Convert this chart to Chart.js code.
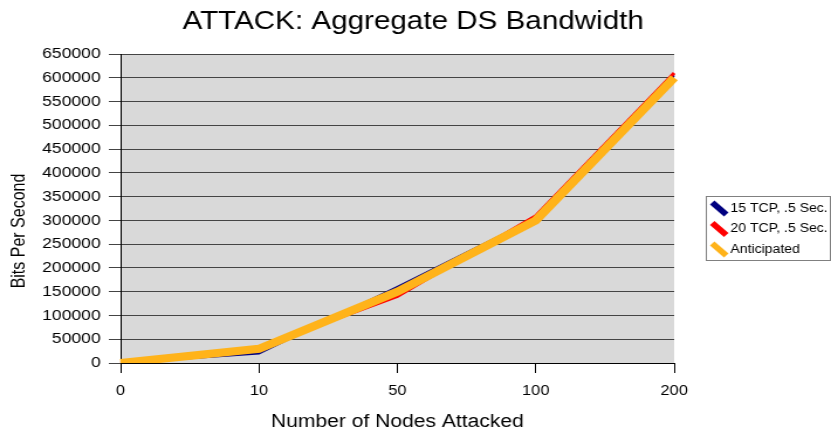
<!DOCTYPE html>
<html>
<head>
<meta charset="utf-8">
<script src="https://cdn.jsdelivr.net/npm/chart.js@4/dist/chart.umd.min.js"></script>
<style>
  html, body { margin: 0; padding: 0; background: #ffffff; }
  /* drawing surface is 710 px wide, shown widened to 831 px */
  #chart { width: 831px; height: 434px; display: block; }
</style>
</head>
<body>
<canvas id="chart" width="710" height="434" style="width:831px;height:434px"></canvas>
<script>
// Nodes attacked (category axis)
const nodes = ['0', '10', '50', '100', '200'];

// Measured aggregate bandwidth, bits per second
const tcp15 = [0, 20000, 160000, 305000, 605000];
const tcp20 = [0, 33000, 140000, 310000, 610000];
const anticipated = [0, 30000, 150000, 300000, 600000];

const yTicks = [0, 50000, 100000, 150000, 200000, 250000, 300000, 350000,
  400000, 450000, 500000, 550000, 600000, 650000];

const titleText = 'ATTACK: Aggregate DS Bandwidth';
const yTitleText = 'Bits Per Second';
const xTitleText = 'Number of Nodes Attacked';

const FONT = '"Liberation Sans", Arial, sans-serif';

// Grey plot background
const plotBg = {
  id: 'plotBg',
  beforeDraw(chart) {
    const a = chart.chartArea;
    const ctx = chart.ctx;
    ctx.save();
    ctx.fillStyle = '#d9d9d9';
    ctx.fillRect(a.left, a.top, a.right - a.left, a.bottom - a.top);
    ctx.restore();
  }
};

// Chart title and the rotated y-axis title
const titles = {
  id: 'titles',
  afterDraw(chart) {
    const ctx = chart.ctx;
    ctx.save();
    ctx.fillStyle = '#000000';
    ctx.textAlign = 'center';
    ctx.textBaseline = 'alphabetic';
    ctx.font = '25.3px ' + FONT;
    ctx.fillText(titleText, 353, 29);
    ctx.translate(17, 231);
    ctx.rotate(-Math.PI / 2);
    ctx.textBaseline = 'middle';
    ctx.font = '16px ' + FONT;
    ctx.fillText(yTitleText, 0, 0);
    ctx.restore();
  }
};

// Boxed legend on the right with diagonal swatches
const boxLegend = {
  id: 'boxLegend',
  afterDraw(chart) {
    const ctx = chart.ctx;
    const x0 = 603.5, y0 = 196.5, w = 106, h = 64;
    ctx.save();
    ctx.fillStyle = '#ffffff';
    ctx.fillRect(x0, y0, w, h);
    ctx.strokeStyle = '#808080';
    ctx.lineWidth = 1;
    ctx.strokeRect(x0, y0, w, h);
    ctx.font = '12px ' + FONT;
    ctx.textBaseline = 'middle';
    ctx.textAlign = 'left';
    [0, 1, 2].forEach((i) => {
      const ds = chart.data.datasets[i];
      const cy = y0 + 12 + i * 20.5;
      ctx.strokeStyle = ds.borderColor;
      ctx.lineWidth = 5.5;
      ctx.lineCap = 'butt';
      ctx.beginPath();
      ctx.moveTo(608.5, cy - 6);
      ctx.lineTo(620.5, cy + 6);
      ctx.stroke();
      ctx.fillStyle = '#000000';
      ctx.fillText(ds.label, 624, cy);
    });
    ctx.restore();
  }
};

new Chart(document.getElementById('chart'), {
  type: 'line',
  data: {
    labels: nodes,
    datasets: [
      { label: '15 TCP, .5 Sec.', data: tcp15, borderColor: '#000080', borderWidth: 2, order: 2 },
      { label: '20 TCP, .5 Sec.', data: tcp20, borderColor: '#ff0000', borderWidth: 3, order: 1 },
      { label: 'Anticipated', data: anticipated, borderColor: '#ffb31a', borderWidth: 8, order: 0 }
    ]
  },
  options: {
    responsive: false,
    animation: false,
    devicePixelRatio: 1,
    layout: { padding: { left: 0, right: 134, top: 54, bottom: 0 } },
    elements: {
      point: { radius: 0, hoverRadius: 0 },
      line: { tension: 0, borderJoinStyle: 'miter', borderCapStyle: 'butt', fill: false }
    },
    plugins: {
      legend: { display: false },
      tooltip: { enabled: false },
      title: { display: false }
    },
    scales: {
      x: {
        type: 'category',
        offset: false,
        grid: { display: true, drawOnChartArea: false, drawTicks: true, tickLength: 10, color: '#000000' },
        border: { display: true, color: '#000000' },
        ticks: { color: '#000000', font: { family: FONT, size: 14 }, padding: 10, maxRotation: 0 },
        title: { display: true, text: xTitleText, color: '#000000',
          font: { family: FONT, size: 18 }, padding: { top: 8, bottom: 1 } },
        afterFit(scale) { scale.height = 71; }
      },
      y: {
        min: 0,
        max: 650000,
        afterBuildTicks(scale) { scale.ticks = yTicks.map(v => ({ value: v })); },
        grid: { display: true, drawOnChartArea: true, drawTicks: true, tickLength: 10, color: '#444444' },
        border: { display: true, color: '#000000' },
        ticks: { color: '#000000', font: { family: FONT, size: 15 }, padding: 7,
          callback: (v) => String(v) },
        afterFit(scale) { scale.width = 103; }
      }
    }
  },
  plugins: [plotBg, titles, boxLegend]
});
</script>
</body>
</html>
